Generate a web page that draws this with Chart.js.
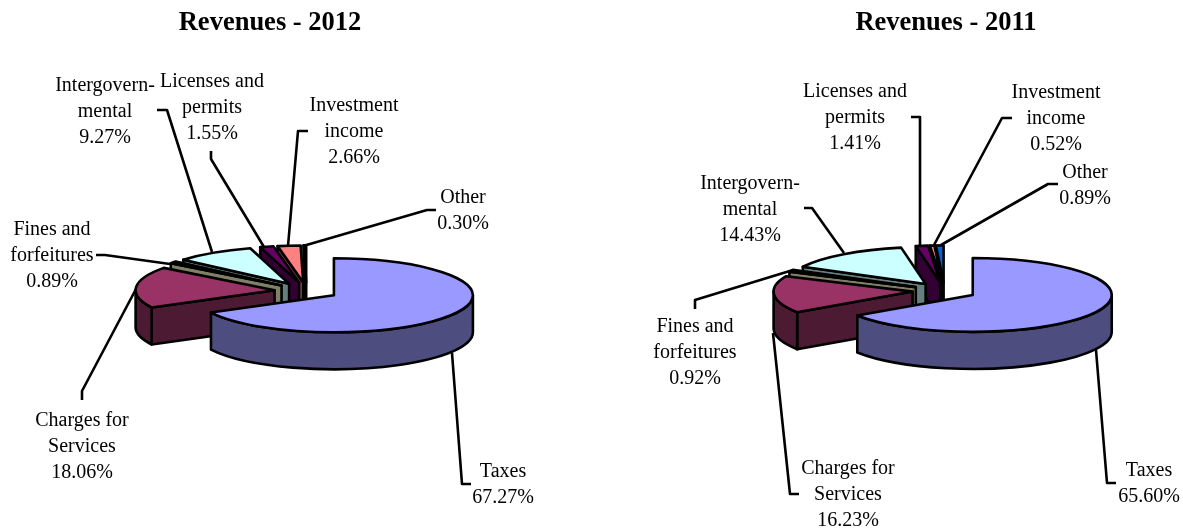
<!DOCTYPE html>
<html>
<head>
<meta charset="utf-8">
<title>Revenues</title>
<script src="https://cdn.jsdelivr.net/npm/chart.js@4"></script>
<style>
    body { margin: 0; background: #fff; overflow: hidden; }
    canvas { position: absolute; top: 0; }
    #pie2012 { left: 0; }
    #pie2011 { left: 591px; }
</style>
</head>
<body>
<canvas id="pie2012" width="591" height="531"></canvas>
<canvas id="pie2011" width="592" height="531"></canvas>
<script>
const categories = [
    ["Taxes"],
    ["Charges for", "Services"],
    ["Fines and", "forfeitures"],
    ["Intergovern-", "mental"],
    ["Licenses and", "permits"],
    ["Investment", "income"],
    ["Other"]
];
const values2012 = [67.27, 18.06, 0.89, 9.27, 1.55, 2.66, 0.30];
const values2011 = [65.60, 16.23, 0.92, 14.43, 1.41, 0.52, 0.89];

const topColors = ["#9999ff", "#993366", "#ffffcc", "#ccffff", "#660066", "#ff8080", "#0066cc"];
const wallColors = ["#4d4d80", "#4d1a33", "#808066", "#668080", "#330033", "#804040", "#003366"];

const TILT = 0.266;
const DEPTH = 37;
const RADIUS = 139;
const EXPLODE = 32;
const LINE_HEIGHT = 26;

// label centre + first line y, then the leader polyline, in page pixels
const labels2012 = [
    { x: 503, y: 472, leader: [[471, 484], [462, 484], [452, 353]] },
    { x: 82, y: 421, leader: [[82, 400], [82, 391], [136, 289]] },
    { x: 52, y: 230, leader: [[96, 255], [105, 255], [170, 264]] },
    { x: 105, y: 86, leader: [[157, 110], [167, 110], [212, 252]] },
    { x: 212, y: 82, leader: [[211, 151], [211, 159], [264, 247]] },
    { x: 354, y: 106, leader: [[308, 131], [298, 131], [288, 246]] },
    { x: 463, y: 198, leader: [[436, 210], [427, 210], [303, 246]] }
];
const labels2011 = [
    { x: 1149, y: 471, leader: [[1116, 483], [1107, 483], [1096, 350]] },
    { x: 848, y: 469, leader: [[799, 494], [790, 494], [773, 333]] },
    { x: 695, y: 327, leader: [[695, 309], [695, 300], [793, 270]] },
    { x: 750, y: 184, leader: [[804, 208], [812, 208], [844, 253]] },
    { x: 855, y: 92, leader: [[911, 117], [920, 117], [920, 245]] },
    { x: 1056, y: 93, leader: [[1012, 118], [1002, 118], [934, 245]] },
    { x: 1085, y: 173, leader: [[1058, 184], [1048, 184], [941, 245]] }
];

function apexOf(arc, shiftX) {
    const mid = (arc.startAngle + arc.endAngle) / 2;
    return {
        x: arc.x + shiftX + Math.cos(mid) * EXPLODE,
        y: arc.y + TILT * Math.sin(mid) * EXPLODE
    };
}

function drawRadialWall(ctx, apex, angle, color) {
    const rimX = apex.x + Math.cos(angle) * RADIUS;
    const rimY = apex.y + Math.sin(angle) * RADIUS * TILT;
    ctx.beginPath();
    ctx.moveTo(apex.x, apex.y);
    ctx.lineTo(rimX, rimY);
    ctx.lineTo(rimX, rimY + DEPTH);
    ctx.lineTo(apex.x, apex.y + DEPTH);
    ctx.closePath();
    ctx.fillStyle = color;
    ctx.fill();
    ctx.stroke();
}

function drawWalls(ctx, arc, apex, color) {
    // only faces turned towards the viewer get drawn
    if (Math.cos(arc.endAngle) > 0) drawRadialWall(ctx, apex, arc.endAngle, color);
    if (Math.cos(arc.startAngle) < 0) drawRadialWall(ctx, apex, arc.startAngle, color);

    const from = Math.max(arc.startAngle, 0);
    const to = Math.min(arc.endAngle, Math.PI);
    if (to > from) {
        ctx.beginPath();
        ctx.ellipse(apex.x, apex.y, RADIUS, RADIUS * TILT, 0, from, to);
        ctx.ellipse(apex.x, apex.y + DEPTH, RADIUS, RADIUS * TILT, 0, to, from, true);
        ctx.closePath();
        ctx.fillStyle = color;
        ctx.fill();
        ctx.stroke();
    }
}

function drawTop(ctx, arc, apex) {
    ctx.save();
    ctx.translate(apex.x, apex.y);
    ctx.scale(1, TILT);
    ctx.translate(-arc.x, -arc.y);
    arc.draw(ctx);
    ctx.restore();

    ctx.beginPath();
    ctx.moveTo(apex.x, apex.y);
    ctx.ellipse(apex.x, apex.y, RADIUS, RADIUS * TILT, 0, arc.startAngle, arc.endAngle);
    ctx.closePath();
    ctx.stroke();
}

function tiltedPie(placement, shiftX, canvasLeft) {
    return {
        id: "tiltedPie",
        beforeDatasetDraw(chart) {
            const ctx = chart.ctx;
            const arcs = chart.getDatasetMeta(0).data;
            const order = arcs.map((arc, i) => i).reverse();

            ctx.save();
            ctx.strokeStyle = "#000";
            ctx.lineWidth = 2.6;
            ctx.lineJoin = "round";

            placement.forEach((item) => {
                ctx.beginPath();
                item.leader.forEach(([x, y]) => ctx.lineTo(x - canvasLeft, y));
                ctx.stroke();
            });

            order.forEach((i) => drawWalls(ctx, arcs[i], apexOf(arcs[i], shiftX), wallColors[i]));
            order.forEach((i) => drawTop(ctx, arcs[i], apexOf(arcs[i], shiftX)));
            ctx.restore();
            return false;
        },
        afterDraw(chart) {
            const ctx = chart.ctx;
            const values = chart.data.datasets[0].data;
            ctx.save();
            ctx.fillStyle = "#000";
            ctx.font = '20px "Liberation Serif"';
            ctx.textAlign = "center";
            ctx.textBaseline = "middle";
            placement.forEach((item, i) => {
                const lines = [...categories[i], `${values[i].toFixed(2)}%`];
                lines.forEach((line, n) => {
                    ctx.fillText(line, item.x - canvasLeft, item.y + n * LINE_HEIGHT);
                });
            });
            ctx.restore();
        }
    };
}

function renderPie(canvasId, heading, values, placement, padding, shiftX, canvasLeft) {
    return new Chart(document.getElementById(canvasId), {
        type: "pie",
        data: {
            labels: categories,
            datasets: [{
                data: values,
                backgroundColor: topColors,
                borderWidth: 0,
                radius: RADIUS
            }]
        },
        options: {
            responsive: false,
            animation: false,
            layout: { padding: padding },
            plugins: {
                legend: { display: false },
                tooltip: { enabled: false },
                title: {
                    display: true,
                    text: heading,
                    color: "#000",
                    font: { family: "Liberation Serif", size: 26.5, weight: "bold" },
                    padding: { top: 7, bottom: 12 }
                }
            }
        },
        plugins: [tiltedPie(placement, shiftX, canvasLeft)]
    });
}

renderPie("pie2012", "Revenues - 2012", values2012, labels2012, { right: 51 }, 36.5, 0);
renderPie("pie2011", "Revenues - 2011", values2011, labels2011, { left: 118 }, -1.5, 591);
</script>
</body>
</html>
